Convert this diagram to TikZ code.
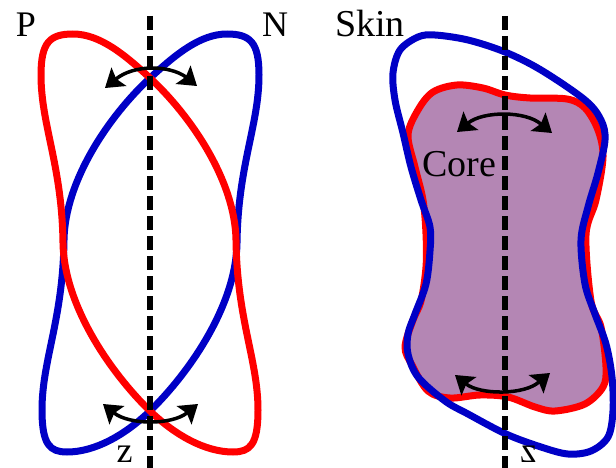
\documentclass[tikz,border=0pt]{standalone}
\usepackage{fontspec}
\usepackage{graphicx}
\setmainfont{Liberation Serif}
\definecolor{pred}{RGB}{255,0,0}
\definecolor{nblue}{RGB}{0,0,198}
\definecolor{corefill}{RGB}{180,134,180}
\tikzset{
  curve/.style={line width=7pt, line join=round},
  axisline/.style={line width=5.5pt, dash pattern=on 14pt off 6pt},
  swing/.style={line width=3.5pt},
  headfill/.style={fill=black},
  lblL/.style={font=\fontsize{36}{42}\selectfont, inner sep=0pt, anchor=base},
  lblR/.style={font=\fontsize{38}{44}\selectfont, inner sep=0pt, anchor=base}
}
% arrow head: tip position, pointing angle (visual, counterclockwise)
\newcommand{\arrhead}[2]{\fill[headfill, shift={#1}, rotate=#2] (0,0) -- (-18,12) -- (-14.5,0) -- (-18,-12) -- cycle;}
\newcommand{\redloop}{(73,34) .. controls (100,34) and (125,55) .. (150,78)
 .. controls (190,115) and (235,180) .. (236,240)
 .. controls (237,320) and (258,360) .. (258,410)
 .. controls (258,445) and (250,452) .. (233,452)
 .. controls (205,452) and (175,435) .. (150,411)
 .. controls (110,372) and (64,305) .. (63,243)
 .. controls (62,165) and (41,125) .. (41,75)
 .. controls (41,42) and (50,34) .. (73,34) -- cycle}
\begin{document}
\begin{tikzpicture}[x=1pt,y=-1pt]
\useasboundingbox (0,0) rectangle (616,468);
% ---------- left panel ----------
\begin{scope}[xshift=300pt, xscale=-1]
  \draw[curve, nblue] \redloop;
\end{scope}
\draw[curve, pred] \redloop;
\coordinate (ltop) at (150,16);
\coordinate (lbot) at (150,468);
\draw[axisline] (ltop) -- (lbot);
% top swing
\coordinate (a1) at (116,79); \coordinate (a2) at (186,77);
\draw[swing] (a1) .. controls (133.6,64.7) and (168.4,64.7) .. (a2);
\arrhead{(105,88)}{219}
\arrhead{(197,86)}{321}
% bottom swing
\coordinate (b1) at (113.9,412.8); \coordinate (b2) at (187.1,412.8);
\draw[swing] (b1) .. controls (129.1,425.1) and (171.9,425.1) .. (b2);
\arrhead{(103,404)}{141}
\arrhead{(198,404)}{39}
\node[lblL] (P) at (26,37) {P};
\node[lblL] (N) at (275,37) {N};
\node[lblL] (zl) at (124.5,462) {z};
% ---------- right panel ----------
\draw[curve, pred, fill=corefill] plot[smooth cycle, tension=0.55] coordinates {
 (408,135) (418,110) (433,92) (457,85) (483,88) (505,95) (530,98) (567,99)
 (585,108) (598,130) (603,157) (596,200) (586,235) (591,301) (601,327) (606,367)
 (603,387) (585,404) (555,411) (535,407) (508,397) (480,395) (450,398) (428,391)
 (412,365) (405,347) (413,320) (421,301) (426,267) (426,234) (423,200) (415,167)};
\draw[curve, nblue] plot[smooth cycle, tension=0.55] coordinates {
 (393,73) (400,50) (418,37) (435,35) (468,40) (505,52) (541,70) (585,100)
 (601,120) (605,140) (598,173) (588,207) (581,240) (585,284) (595,314) (606,344)
 (612,377) (613,411) (608,437) (591,451) (568,454) (541,447) (506,434) (468,414)
 (445,401) (418,377) (408,354) (408,334) (415,314) (426,284) (430,251) (430,227)
 (421,200) (411,167) (403,133) (395,100)};
\coordinate (rtop) at (505,16);
\coordinate (rbot) at (505,468);
\draw[axisline] (rtop) -- (rbot);
% top swing
\coordinate (c1) at (467.9,123.2); \coordinate (c2) at (541.1,124.2);
\draw[swing] (c1) .. controls (483.2,110.8) and (525.8,110.8) .. (c2);
\arrhead{(457,132)}{219}
\arrhead{(552,133)}{321}
% bottom swing
\coordinate (d1) at (465.9,383.8); \coordinate (d2) at (539.1,381.8);
\draw[swing] (d1) .. controls (479.9,395.1) and (525.1,395.1) .. (d2);
\arrhead{(455,375)}{141}
\arrhead{(550,373)}{39}
\node[lblR] (skin) at (370,37) {Skin};
\node[lblR] (core) at (459.5,177) {Core};
\node[lblL] (zr) at (528.5,462) {\reflectbox{z}};
\end{tikzpicture}
\end{document}
